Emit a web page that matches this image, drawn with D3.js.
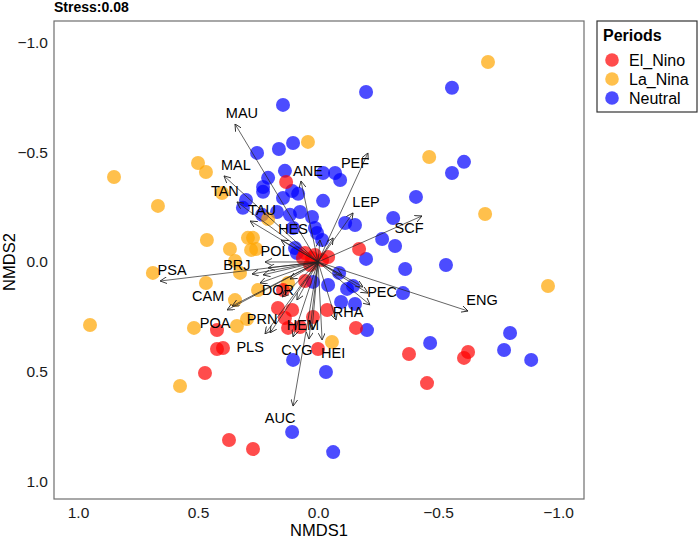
<!DOCTYPE html>
<html><head><meta charset="utf-8">
<script src="https://cdn.jsdelivr.net/npm/d3@7"></script>
<style>body{margin:0;background:#fff}svg{display:block}text{font-family:"Liberation Sans",Arial,sans-serif}</style>
</head><body>
<svg id="chart" width="699" height="538"></svg>
<script>
// ---------- data ----------
const periods = ["El_Nino", "La_Nina", "Neutral"];
const periodColors = ["#FF0000", "#FFA500", "#0000FF"];

const elNinoX = [0.133,0.054,0.025,-0.042,0.063,0.013,-0.017,0.033,-0.171,0.054,0.146,0.167,0.108,0.138,0.021,-0.038,0.125,0.075,-0.158,0.421,0.421,0.396,0.0,0.471,-0.379,-0.625,-0.608,-0.454,0.371,0.271];
const elNinoY = [-0.365,-0.041,-0.018,-0.023,-0.018,-0.032,-0.009,0.014,-0.059,0.087,0.128,0.210,0.219,0.256,0.251,0.219,0.301,0.297,0.301,0.311,0.397,0.393,0.397,0.507,0.420,0.411,0.438,0.553,0.813,0.854];

const laNinaX = [0.850,0.667,0.500,0.467,0.400,0.042,-0.708,-0.463,-0.696,0.463,0.367,0.292,0.271,0.279,0.258,0.208,0.688,0.467,0.325,0.250,0.125,0.346,0.950,0.517,0.338,0.296,0.575,-0.058,-0.958,0.346];
const laNinaY = [-0.388,-0.256,-0.452,-0.411,-0.315,-0.548,-0.913,-0.479,-0.219,-0.100,-0.059,-0.110,-0.110,-0.055,-0.059,-0.196,0.050,0.096,0.050,0.128,0.096,0.174,0.288,0.301,0.292,0.260,0.566,0.365,0.110,-0.005];

const neutralX = [0.146,-0.2,-0.558,0.254,0.163,0.104,0.138,0.208,0.229,0.229,0.108,0.083,0.3,0.313,0.146,-0.021,-0.021,-0.071,-0.092,0.233,0.171,0.117,0.075,0.025,0.104,0.013,0.004,0.096,-0.017,-0.113,-0.154,-0.608,-0.558,-0.408,-0.313,-0.267,-0.321,-0.2,-0.363,-0.533,-0.088,0.021,-0.042,-0.121,-0.146,-0.354,-0.096,-0.154,-0.204,-0.467,-0.8,-0.775,-0.888,-0.033,-0.063,0.104,0.108,0.088];
const neutralY = [-0.717,-0.776,-0.795,-0.498,-0.516,-0.543,-0.416,-0.384,-0.342,-0.320,-0.324,-0.311,-0.283,-0.247,-0.292,-0.279,-0.406,-0.406,-0.374,-0.215,-0.228,-0.215,-0.228,-0.205,-0.155,-0.155,-0.132,-0.064,-0.100,-0.178,-0.169,-0.457,-0.406,-0.297,-0.201,-0.105,-0.073,-0.014,0.032,0.014,0.050,0.091,0.105,0.123,0.110,0.142,0.183,0.192,0.311,0.370,0.324,0.402,0.447,0.502,0.868,0.447,0.776,-0.041];

// species vectors (labelled)
const species = ["MAU","MAL","TAN","TAU","ANE","PEF","LEP","SCF","HES","POL","BRJ","PSA","CAM","POA","DOR","PRN","PLS","HEM","CYG","HEI","AUC","RHA","PEC","ENG"];
const speciesX = [0.346,0.392,0.338,0.283,0.071,-0.208,-0.146,-0.433,0.154,0.221,0.275,0.658,0.379,0.358,0.117,0.200,0.221,0.104,0.038,-0.017,0.104,-0.075,-0.217,-0.625];
const speciesY = [-0.630,-0.393,-0.274,-0.187,-0.370,-0.498,-0.224,-0.210,-0.100,0.000,0.055,0.087,0.219,0.201,0.078,0.324,0.329,0.342,0.352,0.356,0.658,0.265,0.196,0.224];
const labelX = [0.317,0.342,0.388,0.233,0.042,-0.154,-0.200,-0.379,0.104,0.179,0.338,0.608,0.458,0.429,0.167,0.233,0.283,0.063,0.088,-0.063,0.158,-0.125,-0.267,-0.683];
const labelY = [-0.680,-0.443,-0.324,-0.237,-0.416,-0.452,-0.274,-0.155,-0.150,-0.050,0.014,0.037,0.155,0.279,0.128,0.260,0.388,0.288,0.402,0.416,0.712,0.228,0.137,0.174];
// short vectors whose labels are hidden in the central cluster
const shortX = [0.229,0.208,0.242,0.088,0.025,-0.208,-0.188,-0.063,-0.008,0.150,-0.100];
const shortY = [0.059,0.027,0.096,0.174,0.311,0.142,0.114,-0.110,-0.100,0.160,0.060];

const xTicks = [1.0, 0.5, 0.0, -0.5, -1.0];
const yTicks = [-1.0, -0.5, 0.0, 0.5, 1.0];
const stressLabel = "Stress:0.08";

// ---------- layout ----------
const svg = d3.select("#chart");
const L = 54, R = 584, T = 21, B = 499;
const x = d3.scaleLinear().domain([1.1, -1.108]).range([L, R]);
const y = d3.scaleLinear().domain([-1.10, 1.082]).range([T, B]);

// points
const pts = [];
[[neutralX, neutralY, 2], [laNinaX, laNinaY, 1], [elNinoX, elNinoY, 0]].forEach(([xs, ys, k]) => {
  xs.forEach((v, i) => pts.push({x: v, y: ys[i], k}));
});
svg.append("g").selectAll("circle").data(pts).join("circle")
  .attr("cx", d => x(d.x)).attr("cy", d => y(d.y)).attr("r", 7)
  .attr("fill", d => periodColors[d.k]).attr("fill-opacity", 0.7);

// arrows
svg.append("defs").append("marker")
  .attr("id", "ah").attr("viewBox", "0 0 10 10").attr("refX", 10).attr("refY", 5)
  .attr("markerWidth", 7).attr("markerHeight", 7).attr("markerUnits", "userSpaceOnUse")
  .attr("orient", "auto")
  .append("path").attr("d", "M0,0L10,5L0,10").attr("fill", "none")
  .attr("stroke", "#222").attr("stroke-width", 1.2);

const vecs = species.map((s, i) => ({x: speciesX[i], y: speciesY[i]}))
  .concat(shortX.map((v, i) => ({x: v, y: shortY[i]})));
svg.append("g").selectAll("line").data(vecs).join("line")
  .attr("x1", x(0)).attr("y1", y(0))
  .attr("x2", d => x(d.x)).attr("y2", d => y(d.y))
  .attr("stroke", "#222").attr("stroke-width", 0.7)
  .attr("marker-end", "url(#ah)");

svg.append("g").selectAll("text").data(species).join("text")
  .attr("x", (d, i) => x(labelX[i])).attr("y", (d, i) => y(labelY[i]))
  .attr("text-anchor", "middle").attr("dominant-baseline", "central")
  .attr("font-size", 14.5).attr("fill", "#000").text(d => d);

// panel border
svg.append("rect").attr("x", L).attr("y", T).attr("width", R - L).attr("height", B - T)
  .attr("fill", "none").attr("stroke", "#6e6e6e").attr("stroke-width", 1.2);

// axes (labels only, no tick marks)
const xAxis = svg.append("g").attr("transform", `translate(0,${B})`)
  .call(d3.axisBottom(x).tickValues(xTicks).tickFormat(d3.format(".1f")).tickSize(0).tickPadding(8));
const yAxis = svg.append("g").attr("transform", `translate(${L},0)`)
  .call(d3.axisLeft(y).tickValues(yTicks).tickFormat(d3.format(".1f")).tickSize(0).tickPadding(6));
[xAxis, yAxis].forEach(a => {
  a.select(".domain").remove();
  a.selectAll("text").attr("font-size", 15.5).attr("fill", "#1a1a1a")
    .attr("font-family", '"Liberation Sans",Arial,sans-serif');
});

svg.append("text").attr("x", 319).attr("y", 536).attr("text-anchor", "middle")
  .attr("font-size", 16.5).text("NMDS1");
svg.append("text").attr("transform", "translate(15,262) rotate(-90)").attr("text-anchor", "middle")
  .attr("font-size", 16.5).text("NMDS2");
svg.append("text").attr("x", 54).attr("y", 12).attr("font-size", 14).attr("font-weight", "bold")
  .text(stressLabel);

// legend
const lg = svg.append("g");
lg.append("rect").attr("x", 597).attr("y", 21).attr("width", 100).attr("height", 91)
  .attr("fill", "#fff").attr("stroke", "#333").attr("stroke-width", 1.2);
lg.append("text").attr("x", 603).attr("y", 41).attr("font-size", 16).attr("font-weight", "bold").text("Periods");
periods.forEach((p, i) => {
  lg.append("circle").attr("cx", 612).attr("cy", 60 + i * 19).attr("r", 6.8)
    .attr("fill", periodColors[i]).attr("fill-opacity", 0.7);
  lg.append("text").attr("x", 629).attr("y", 60 + i * 19).attr("dominant-baseline", "central")
    .attr("font-size", 16).text(p);
});
</script>
</body></html>
